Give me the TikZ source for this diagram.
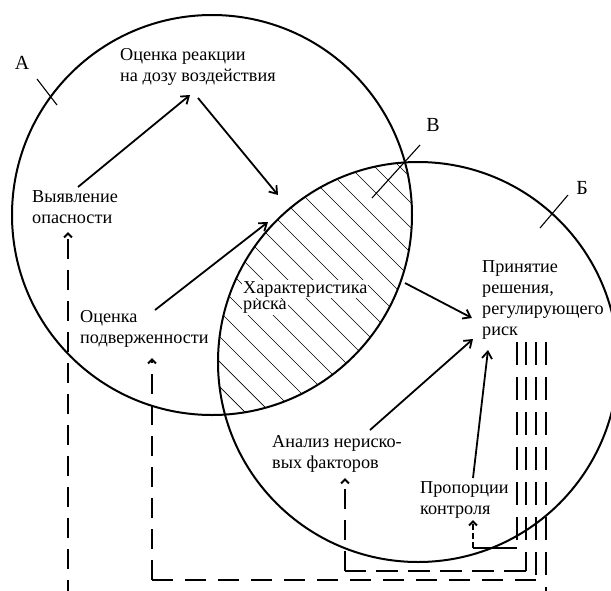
\documentclass[tikz,border=0pt]{standalone}
\usepackage{fontspec}
\setmainfont{Liberation Serif}
\usetikzlibrary{arrows.meta}
\begin{document}
\begin{tikzpicture}[x=1pt,y=-1pt,
  circ/.style={line width=2pt},
  arr/.style={line width=1.8pt,-{Straight Barb[length=7pt,width=10pt]}},
  darr/.style={line width=2pt,dash pattern=on 20pt off 11pt,-{Straight Barb[length=4pt,width=8pt]}},
  dln/.style={line width=2pt,dash pattern=on 20pt off 11pt},
  vdash/.style={line width=2.6pt,dash pattern=on 23pt off 12pt},
  txt/.style={font=\fontsize{18.2}{21}\selectfont,align=left,inner sep=0pt,anchor=north west},
  lbl/.style={font=\fontsize{20}{21}\selectfont,inner sep=0pt},
  tick/.style={line width=1.1pt},
  hatch/.style={line width=0.7pt}]
\useasboundingbox (0,0) rectangle (611,590);
\clip (0,0) rectangle (611,590);
\coordinate (CA) at (212,215);
\coordinate (CB) at (418,362);
% hatching of the intersection
\begin{scope}
  \clip (CA) circle (200pt);
  \clip (CB) circle (200pt);
  \foreach \k in {-20,...,20} \draw[hatch] (\k*25+8,0) -- ++(600,600);
\end{scope}
% texts
\node[txt] (dose) at (120,48) {Оценка реакции\\на дозу воздействия};
\node[txt] (haz) at (32,190) {Выявление\\опасности};
\node[txt] (expo) at (80,310) {Оценка\\подверженности};
\node[txt,fill=white,inner sep=1pt] (char1) at (242,280) {Характеристика};
\node[txt,fill=white,inner sep=1pt] (char2) at (242,300) {риска};
\node[txt] (dec) at (482,260) {Принятие\\решения,\\регулирующего\\риск};
\node[txt] (nonrisk) at (272,435) {Анализ нериско-\\вых факторов};
\node[txt] (ctrl) at (420,481) {Пропорции\\контроля};
% circles
\draw[circ] (CA) circle (200pt);
\draw[circ] (CB) circle (200pt);
% labels and ticks
\node[lbl] (lA) at (22,63) {А};
\node[lbl] (lV) at (433,125) {В};
\node[lbl] (lB) at (582,188) {Б};
\coordinate (tA1) at (37,79);  \coordinate (tA2) at (57,105);
\coordinate (tV1) at (420,145); \coordinate (tV2) at (372,198);
\coordinate (tB1) at (568,195); \coordinate (tB2) at (540,228);
\draw[tick] (tA1) -- (tA2);
\draw[tick] (tV1) -- (tV2);
\draw[tick] (tB1) -- (tB2);
% solid arrows
\coordinate (a1s) at (78,187);  \coordinate (a1e) at (190,95);
\coordinate (a2s) at (198,98);  \coordinate (a2e) at (278,195);
\coordinate (a3s) at (155,310); \coordinate (a3e) at (268,222);
\coordinate (a4s) at (405,283); \coordinate (a4e) at (472,318);
\coordinate (a5s) at (370,430); \coordinate (a5e) at (473,339);
\coordinate (a6s) at (473,478); \coordinate (a6e) at (488,350);
\draw[arr] (a1s) -- (a1e);
\draw[arr] (a2s) -- (a2e);
\draw[arr] (a3s) -- (a3e);
\draw[arr] (a4s) -- (a4e);
\draw[arr] (a5s) -- (a5e);
\draw[arr] (a6s) -- (a6e);
% dashed feedback lines
\coordinate (v1) at (517,342); \coordinate (v2) at (526,342);
\coordinate (v3) at (536,342); \coordinate (v4) at (546,342);
\coordinate (h1) at (473,548); \coordinate (h2) at (345,571); \coordinate (h3) at (152,580);
\coordinate (f1) at (473,520); \coordinate (f2) at (345,478); \coordinate (f3) at (152,358);
\coordinate (f4) at (68,232); \coordinate (b4) at (68,600); \coordinate (b5) at (546,600);
\draw[vdash] (v1) -- (517,548);
\draw[vdash] (v2) -- (526,571);
\draw[vdash] (v3) -- (536,580);
\draw[vdash] (v4) -- (b5);
\draw[line width=2pt] (517,548) -- (h1);
\draw[darr,dash pattern=on 6pt off 3pt] (h1) -- (f1);
\draw[line width=1.6pt,dash pattern=on 22pt off 10pt] (526,571) -- (h2);
\draw[darr] (h2) -- (f2);
\draw[dln,line width=2.4pt,dash pattern=on 21pt off 12pt] (536,580) -- (h3);
\draw[darr] (h3) -- (f3);
\draw[darr] (b4) -- (f4);
\end{tikzpicture}
\end{document}
